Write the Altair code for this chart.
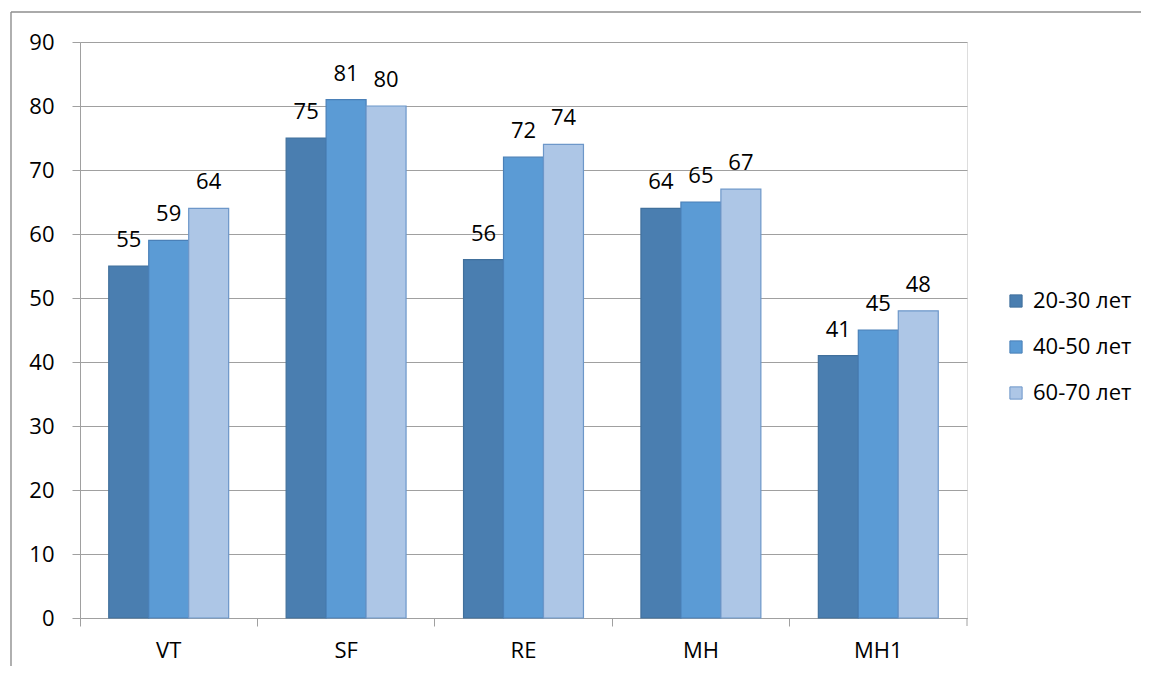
import altair as alt
import pandas as pd

categories = ["VT", "SF", "RE", "MH", "MH1"]
series = ["20-30 лет", "40-50 лет", "60-70 лет"]
s_20_30 = [55, 75, 56, 64, 41]
s_40_50 = [59, 81, 72, 65, 45]
s_60_70 = [64, 80, 74, 67, 48]
y_ticks = list(range(0, 100, 10))

fill_colors = ["#4A7EB0", "#5B9BD5", "#ADC6E6"]
stroke_colors = ["#41709C", "#4A80B8", "#6D97C9"]

rows = []
for name, vals in zip(series, [s_20_30, s_40_50, s_60_70]):
    for c, v in zip(categories, vals):
        rows.append({"cat": c, "series": name, "value": v})
df = pd.DataFrame(rows)

FONT = "Open Sans"
FS = 22
GRAY = "#A0A0A0"

base = alt.Chart(df).encode(
    x=alt.X(
        "cat:N",
        sort=categories,
        scale=alt.Scale(paddingInner=0.324, paddingOuter=0.162),
        axis=alt.Axis(
            title=None, labelAngle=0, tickSize=8, bandPosition=-0.239,
            domainColor=GRAY, tickColor=GRAY, labelFont=FONT, labelFontSize=FS,
            labelColor="black", labelPadding=14, grid=False,
        ),
    ),
    xOffset=alt.XOffset("series:N", sort=series, scale=alt.Scale(paddingInner=0, paddingOuter=0)),
    y=alt.Y(
        "value:Q",
        scale=alt.Scale(domain=[0, 90], nice=False),
        axis=alt.Axis(
            title=None, values=y_ticks, tickSize=8, labelPadding=18,
            domainColor=GRAY, tickColor=GRAY, gridColor=GRAY, grid=True,
            labelFont=FONT, labelFontSize=FS, labelColor="black",
        ),
    ),
)

bars = base.mark_bar(strokeWidth=1.2).encode(
    color=alt.Color(
        "series:N", sort=series,
        scale=alt.Scale(domain=series, range=fill_colors),
        legend=alt.Legend(
            title=None, orient="none", legendX=925, legendY=248,
            symbolType="square", symbolSize=150, symbolStrokeColor="#41709C",
            symbolStrokeWidth=1, labelFont=FONT, labelFontSize=FS, labelColor="black",
            labelOffset=6, rowPadding=24, padding=0,
        ),
    ),
    stroke=alt.Stroke("series:N", sort=series,
                      scale=alt.Scale(domain=series, range=stroke_colors), legend=None),
)

labels = base.mark_text(
    dy=-19, baseline="alphabetic", font=FONT, fontSize=FS, color="black"
).encode(text="value:Q")

deco = pd.DataFrame({"d": [0]})
frame_top = alt.Chart(deco).mark_rule(color="#8E8E8E", strokeWidth=1.4).encode(
    x=alt.value(-69), x2=alt.value(1100), y=alt.value(-30))
frame_left = alt.Chart(deco).mark_rule(color="#8E8E8E", strokeWidth=1.4).encode(
    x=alt.value(-69), y=alt.value(-30), y2=alt.value(700))
end_tick = alt.Chart(deco).mark_rule(color=GRAY, strokeWidth=1).encode(
    x=alt.value(887), y=alt.value(576), y2=alt.value(584))

chart = alt.layer(bars, labels, end_tick, frame_top, frame_left).properties(
    width=887, height=576,
    padding={"left": 72, "top": 34, "right": 174, "bottom": 48},
    autosize=alt.AutoSizeParams(type="none"),
).configure_view(fill="#E9EDF6", stroke=None).configure(background="white")

chart.save("out.html", embed_options={"renderer": "svg", "actions": False})
